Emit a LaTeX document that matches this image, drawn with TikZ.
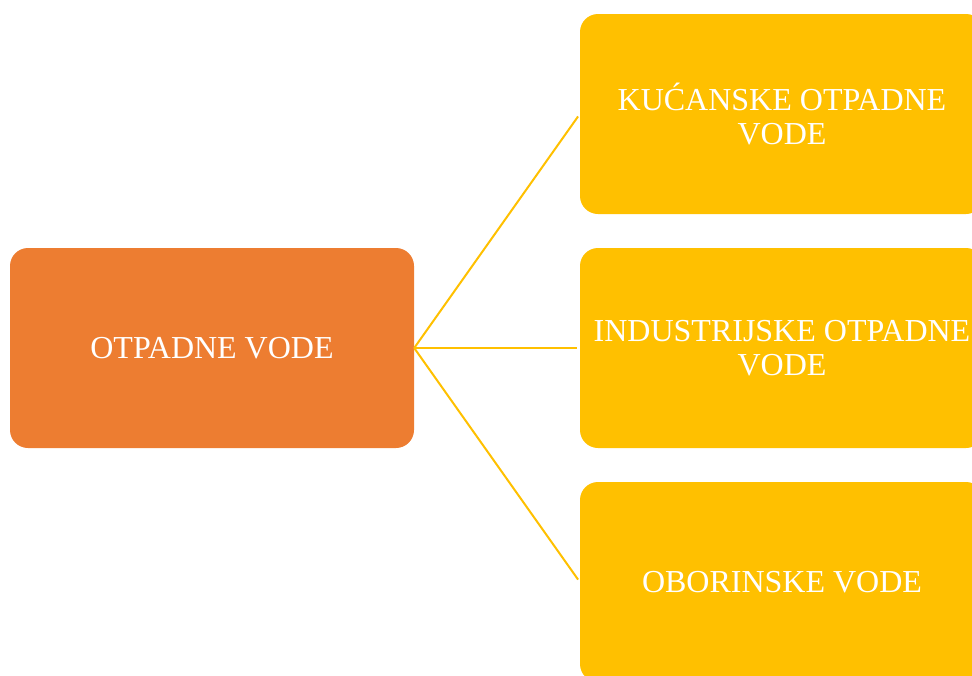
\documentclass[tikz,border=0pt]{standalone}
\usepackage{fontspec}
\setmainfont{Liberation Serif}
\definecolor{orangebox}{HTML}{ED7D31}
\definecolor{goldbox}{HTML}{FFC000}
\begin{document}
\begin{tikzpicture}[x=1pt,y=-1pt,
  box/.style={rectangle, rounded corners=18pt, minimum width=404pt, minimum height=200pt,
    inner sep=0pt, align=center, text=white, font=\fontsize{32}{33.5}\selectfont},
  mainbox/.style={box, fill=orangebox},
  subbox/.style={box, fill=goldbox},
  link/.style={draw=goldbox, line width=2pt, shorten >=3pt}]
\useasboundingbox (0,0) rectangle (972,675);
\clip (0,0) rectangle (972,675);
\node[mainbox] (main) at (212,348) {OTPADNE VODE};
\node[subbox] (kuc) at (782,114) {KUĆANSKE OTPADNE\\VODE};
\node[subbox] (ind) at (782,348) {INDUSTRIJSKE OTPADNE\\VODE};
\node[subbox] (obo) at (782,582) {OBORINSKE VODE};
\draw[link] (main.east) -- (kuc.west);
\draw[link] (main.east) -- (ind.west);
\draw[link] (main.east) -- (obo.west);
\end{tikzpicture}
\end{document}
